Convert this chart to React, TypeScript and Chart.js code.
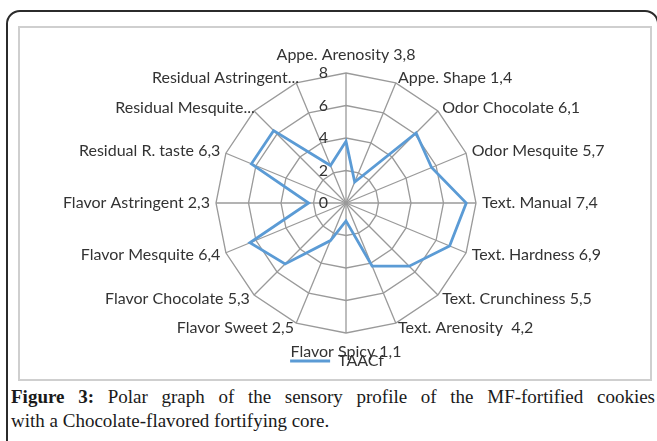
import React, { useEffect, useRef } from "react";
import { Chart, registerables } from "chart.js";

Chart.register(...registerables);

const categories: string[] = [
  "Appe. Arenosity 3,8",
  "Appe. Shape 1,4",
  "Odor Chocolate 6,1",
  "Odor Mesquite 5,7",
  "Text. Manual 7,4",
  "Text. Hardness 6,9",
  "Text. Crunchiness 5,5",
  "Text. Arenosity  4,2",
  "Flavor Spicy 1,1",
  "Flavor Sweet 2,5",
  "Flavor Chocolate 5,3",
  "Flavor Mesquite 6,4",
  "Flavor Astringent 2,3",
  "Residual R. taste 6,3",
  "Residual Mesquite...",
  "Residual Astringent...",
];
const taacValues: number[] = [3.8, 1.4, 6.1, 5.7, 7.4, 6.9, 5.5, 4.2, 1.1, 2.5, 5.3, 6.4, 2.3, 6.3, 6.3, 2.5];
const seriesName = "TAACf";
const tickMin = 0;
const tickMax = 8;
const tickStep = 2;

const LABEL_FONT = "16px Lato";
const TEXT_COLOR = "#333333";

const radarTextPlugin = {
  id: "radarText",
  afterLayout(chart: any) {
    if (chart.legend) {
      chart.legend.left -= 9;
      chart.legend.right -= 9;
    }
  },
  afterDraw(chart: any) {
    const scale = chart.scales.r;
    const ctx = chart.ctx;
    ctx.save();
    ctx.font = LABEL_FONT;
    ctx.fillStyle = TEXT_COLOR;
    ctx.textBaseline = "middle";
    ctx.textAlign = "right";
    scale.ticks.forEach((t: any) => {
      const d = scale.getDistanceFromCenterForValue(t.value);
      ctx.fillText(String(t.value), scale.xCenter - 18, scale.yCenter - d);
    });
    const labels: string[] = chart.data.labels;
    const n = labels.length;
    labels.forEach((lab, i) => {
      const p = scale.getPointPosition(i, scale.drawingArea);
      const th = (i / n) * Math.PI * 2;
      const s = Math.sin(th);
      const c = Math.cos(th);
      let x = p.x;
      let y = p.y;
      if (Math.abs(s) < 1e-6) {
        ctx.textAlign = "center";
        y = c > 0 ? p.y - 18 : p.y + 19;
      } else {
        ctx.textAlign = s > 0 ? "left" : "right";
        x = p.x + s * 6;
        if (s < 0 && c > 0.5) x += 5;
        y = p.y - c * 5;
      }
      ctx.fillText(lab, x, y);
    });
    ctx.restore();
  },
};

function RadarChart() {
  const ref = useRef<HTMLCanvasElement | null>(null);
  useEffect(() => {
    if (!ref.current) return;
    const chart = new Chart(ref.current, {
      type: "radar",
      data: {
        labels: categories,
        datasets: [
          {
            label: seriesName,
            data: taacValues,
            borderColor: "#5B9BD5",
            backgroundColor: "rgba(0,0,0,0)",
            borderWidth: 2.8,
            pointRadius: 0,
            pointHoverRadius: 0,
            fill: false,
            tension: 0,
          },
        ],
      },
      options: {
        animation: false,
        responsive: false,
        maintainAspectRatio: false,
        devicePixelRatio: 1,
        layout: { padding: { left: 196, right: 174, top: 45, bottom: 0 } },
        plugins: {
          legend: {
            position: "bottom",
            labels: {
              usePointStyle: true,
              pointStyle: "line",
              pointStyleWidth: 40,
              padding: 20,
              color: TEXT_COLOR,
              font: { family: "Lato", size: 16 },
            },
          },
          tooltip: { enabled: false },
        },
        scales: {
          r: {
            min: tickMin,
            max: tickMax,
            ticks: { stepSize: tickStep, display: false },
            pointLabels: { display: false },
            grid: { color: "#9a9a9a", lineWidth: 1.3 },
            angleLines: { color: "#9a9a9a", lineWidth: 1.3 },
          },
        },
      },
      plugins: [radarTextPlugin],
    } as any);
    return () => chart.destroy();
  }, []);
  return <canvas ref={ref} width={630} height={351} style={{ position: "absolute", left: 20, top: 28, width: 630, height: 351 }} />;
}

export default function App() {
  const captionStyle: React.CSSProperties = {
    position: "absolute",
    left: 11,
    width: 644,
    fontFamily: "'Liberation Serif', 'DejaVu Serif', serif",
    fontSize: 19,
    lineHeight: "24px",
    color: "#1a1a1a",
    whiteSpace: "nowrap",
  };
  return (
    <div style={{ position: "absolute", left: 0, top: 0, width: 657, height: 441, overflow: "hidden", background: "#fff" }}>
      <div style={{ position: "absolute", left: 6, top: 10, width: 653, height: 470, border: "2px solid #2b2b2b", borderRadius: 14, boxSizing: "border-box" }} />
      <div style={{ position: "absolute", left: 18, top: 26, width: 634, height: 355, border: "2px solid #cfcfcf", boxSizing: "border-box" }} />
      <RadarChart />
      <div style={{ ...captionStyle, top: 385, textAlign: "justify", textAlignLast: "justify" as any, whiteSpace: "normal" }}>
        <b>Figure 3:</b> Polar graph of the sensory profile of the MF-fortified cookies
      </div>
      <div style={{ ...captionStyle, top: 409 }}>with a Chocolate-flavored fortifying core.</div>
    </div>
  );
}
